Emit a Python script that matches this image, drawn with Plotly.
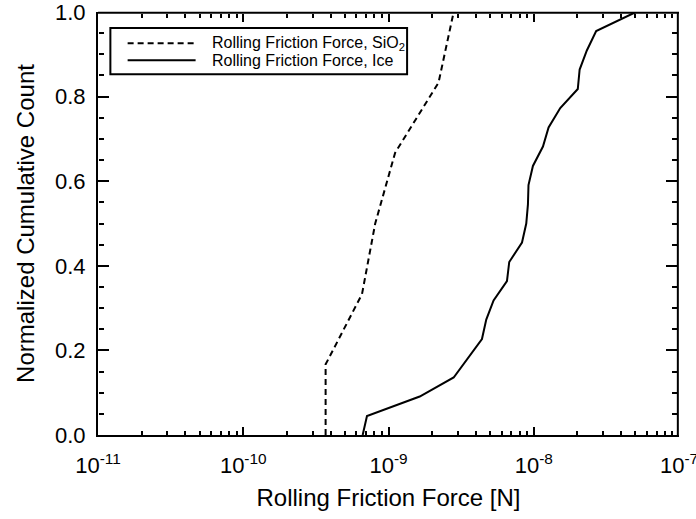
import plotly.graph_objects as go

# SiO2 rolling friction force (dashed)
sio2_force = [3.69e-10, 3.69e-10, 6.57e-10, 8.1e-10, 1.11e-9, 2.21e-9, 2.81e-9]
sio2_count = [0.0, 0.167, 0.333, 0.5, 0.667, 0.833, 1.0]

# Ice rolling friction force (solid)
ice_force = [6.64e-10, 7.11e-10, 1.64e-9, 2.81e-9, 4.40e-9, 4.71e-9, 5.29e-9,
             6.54e-9, 6.78e-9, 8.30e-9, 8.88e-9, 9.12e-9, 9.20e-9, 9.87e-9,
             1.157e-8, 1.265e-8, 1.522e-8, 2.01e-8, 2.07e-8, 2.32e-8, 2.69e-8,
             5.05e-8]
ice_count = [0.0, 0.045, 0.091, 0.136, 0.227, 0.273, 0.318, 0.364, 0.409,
             0.455, 0.5, 0.545, 0.591, 0.636, 0.682, 0.727, 0.773, 0.818,
             0.864, 0.909, 0.955, 1.0]

series_names = ["Rolling Friction Force, SiO<sub>2</sub>",
                "Rolling Friction Force, Ice"]

x_range_log = [-11, -7]
y_range = [0, 1.0]
x_tickvals = [1e-11, 1e-10, 1e-9, 1e-8, 1e-7]
x_ticktext = ["10<sup>-11</sup>", "10<sup>-10</sup>", "10<sup>-9</sup>",
              "10<sup>-8</sup>", "10<sup>-7</sup>"]
y_tickvals = [0.0, 0.2, 0.4, 0.6, 0.8, 1.0]
# minor tick positions: 2..9 within each decade, every 0.05 in y
x_minorvals = [m * 10.0 ** e for e in range(-11, -7) for m in range(2, 10)]
y_minorvals = [round(i * 0.05, 2) for i in range(21) if i % 4]

FONT = "Liberation Sans, Arial, Helvetica, sans-serif"
DASH = "6px,4px"

fig = go.Figure()
fig.add_trace(go.Scatter(
    x=sio2_force, y=sio2_count, mode="lines", name=series_names[0],
    line=dict(color="black", width=2, dash=DASH),
))
fig.add_trace(go.Scatter(
    x=ice_force, y=ice_count, mode="lines", name=series_names[1],
    line=dict(color="black", width=2),
))
# invisible copies so the extra tick-mark axes get drawn
for xa, ya in [("x2", "y2"), ("x3", "y3"), ("x4", "y4")]:
    fig.add_trace(go.Scatter(
        x=ice_force, y=ice_count, mode="lines", xaxis=xa, yaxis=ya,
        line=dict(color="rgba(0,0,0,0)", width=0), hoverinfo="skip",
        showlegend=False,
    ))

# plot frame (top and right edges)
fig.add_shape(type="line", xref="paper", yref="paper", x0=0, x1=1,
              y0=0.998, y1=0.998, line=dict(color="black", width=2),
              layer="above")
fig.add_shape(type="line", xref="paper", yref="paper", x0=0.998, x1=0.998,
              y0=0, y1=1, line=dict(color="black", width=2), layer="above")

# legend box drawn in paper coordinates (like the reference's boxed legend)
fig.add_shape(type="rect", xref="paper", yref="paper",
              x0=0.0213, x1=0.532, y0=0.853, y1=0.962,
              line=dict(color="black", width=2), fillcolor="white", layer="above")
legend_rows = [0.926, 0.886]
legend_dash = [DASH, "solid"]
for name, yr, dsh in zip(series_names, legend_rows, legend_dash):
    fig.add_shape(type="line", xref="paper", yref="paper",
                  x0=0.051, x1=0.168, y0=yr, y1=yr,
                  line=dict(color="black", width=2, dash=dsh), layer="above")
    fig.add_annotation(xref="paper", yref="paper", x=0.192, y=yr,
                       xanchor="left", yanchor="middle", showarrow=False,
                       text=name, font=dict(size=16, family=FONT, color="black"))

fig.update_layout(
    width=696, height=519,
    margin=dict(l=98, r=17, t=12, b=84),
    paper_bgcolor="white", plot_bgcolor="white",
    font=dict(family=FONT, color="black"),
    showlegend=False,
)


def tick_x(vals, length, side, pos):
    return dict(type="log", range=x_range_log, overlaying="x", side=side,
                anchor="free", position=pos, automargin=False,
                tickmode="array", tickvals=vals, showticklabels=False,
                ticks="inside", ticklen=length, tickwidth=1.5,
                tickcolor="black", showline=False, showgrid=False,
                zeroline=False)


def tick_y(vals, length, side, pos):
    return dict(range=y_range, overlaying="y", side=side,
                anchor="free", position=pos, automargin=False,
                tickmode="array", tickvals=vals, showticklabels=False,
                ticks="inside", ticklen=length, tickwidth=1.5,
                tickcolor="black", showline=False, showgrid=False,
                zeroline=False)


fig.update_layout(
    xaxis=dict(
        type="log", range=x_range_log, automargin=False,
        tickmode="array", tickvals=x_tickvals, ticktext=x_ticktext,
        ticks="inside", ticklen=8, tickwidth=1.5, tickcolor="black",
        showline=True, linecolor="black", linewidth=2,
        showgrid=False, zeroline=False, ticklabeloverflow="allow",
        ticklabelstandoff=10,
        tickfont=dict(size=22, family=FONT, color="black"),
        title=dict(text="Rolling Friction Force [N]",
                   font=dict(size=24, family=FONT, color="black"), standoff=12),
    ),
    yaxis=dict(
        range=y_range, automargin=False,
        tickmode="array", tickvals=y_tickvals, tickformat=".1f",
        ticks="inside", ticklen=11, tickwidth=1.5, tickcolor="black",
        showline=True, linecolor="black", linewidth=2,
        showgrid=False, zeroline=False, ticklabeloverflow="allow",
        ticklabelstandoff=6,
        tickfont=dict(size=22, family=FONT, color="black"),
        title=dict(text="Normalized Cumulative Count",
                   font=dict(size=24, family=FONT, color="black"), standoff=14),
    ),
    # minor ticks bottom / left
    xaxis2=tick_x(x_minorvals, 4, "bottom", 0),
    yaxis2=tick_y(y_minorvals, 5, "left", 0),
    # major ticks top / right
    xaxis3=tick_x(x_tickvals, 8, "top", 0.997),
    yaxis3=tick_y(y_tickvals, 11, "right", 0.997),
    # minor ticks top / right
    xaxis4=tick_x(x_minorvals, 4, "top", 0.997),
    yaxis4=tick_y(y_minorvals, 5, "right", 0.997),
)

fig.write_html("out.html", config={"displayModeBar": False},
               post_script="document.body.style.margin='0';")
